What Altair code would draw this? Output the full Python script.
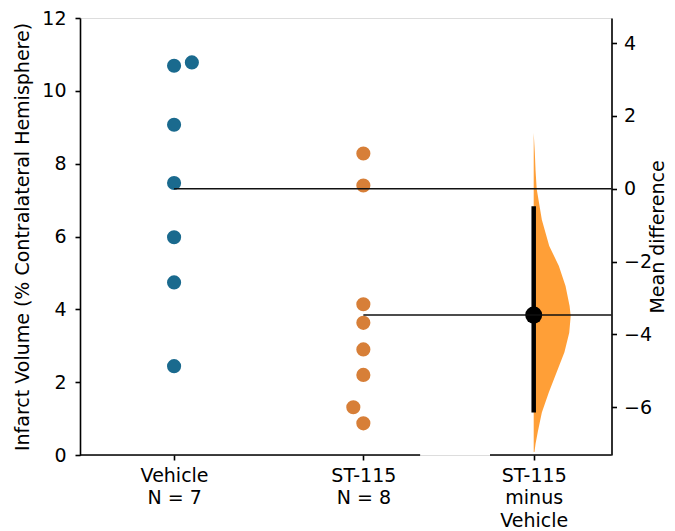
import altair as alt
import numpy as np
import pandas as pd

# ---- data ----
groups = ["Vehicle", "ST-115"]
vehicle_vals = [10.69, 10.78, 9.07, 7.47, 5.98, 4.74, 2.44]
vehicle_swarm = [0.0, 0.094, 0.0, 0.0, 0.0, 0.0, 0.0]
st115_vals = [8.28, 7.40, 4.14, 3.63, 2.90, 2.20, 1.31, 0.87]
st115_swarm = [0.0, 0.0, 0.0, 0.0, 0.0, 0.0, -0.053, 0.0]

# bootstrap distribution outline of the mean difference (relative density)
boot_diff = [1.53, 1.0, 0.5, 0.0, -0.85, -1.57, -2.12, -2.67, -3.22, -3.49,
             -3.95, -4.49, -5.04, -5.59, -6.14, -6.68, -7.0, -7.23]
boot_density = [0.0, 0.03, 0.05, 0.08, 0.22, 0.42, 0.68, 0.86, 0.97, 1.0,
                0.96, 0.83, 0.62, 0.41, 0.22, 0.11, 0.05, 0.02]
ci_low, ci_high = -6.14, -0.48

x_labels = {0: ["Vehicle", "N = 7"], 1: ["ST-115", "N = 8"],
            2: ["ST-115", "minus", "Vehicle"]}
left_ticks = [0, 2, 4, 6, 8, 10, 12]
right_ticks = [-6, -4, -2, 0, 2, 4]

# ---- layout ----
pos = [0.0, 1.0]
contrast_pos = 1.9
half_width = 0.1955
xdom = [-0.497, 2.311]
left_seg = [-0.497, 1.30]
right_seg = [1.669, 2.311]
W, H = 531.5, 437
FONT = "DejaVu Sans"
BLUE, ORANGE, VIOLIN = "#1a6a8e", "#d77f38", "#ff9a2c"

veh_mean = float(np.mean(vehicle_vals))
st_mean = float(np.mean(st115_vals))
mdiff = st_mean - veh_mean

pts = pd.DataFrame({
    "x": [pos[0] + o for o in vehicle_swarm] + [pos[1] + o for o in st115_swarm],
    "value": vehicle_vals + st115_vals,
    "group": [groups[0]] * len(vehicle_vals) + [groups[1]] * len(st115_vals),
})
means = pd.DataFrame({"x": pos, "x2": [xdom[1], xdom[1]], "mean": [veh_mean, st_mean]})
segs = pd.DataFrame({"x": [left_seg[0], right_seg[0]], "x2": [left_seg[1], right_seg[1]]})
violin = pd.DataFrame({
    "diff": boot_diff,
    "xr": [contrast_pos + d * half_width for d in boot_density],
    "xc": [contrast_pos] * len(boot_diff),
})
ci = pd.DataFrame({"x": [contrast_pos], "lo": [ci_low], "hi": [ci_high], "md": [mdiff]})

def js_list(lst):
    return "[" + ",".join("'" + s + "'" for s in lst) + "]"

label_expr = (f"datum.value == {pos[0]} ? {js_list(x_labels[0])} : "
              f"datum.value == {pos[1]} ? {js_list(x_labels[1])} : {js_list(x_labels[2])}")

xaxis = alt.Axis(values=[pos[0], pos[1], contrast_pos], domain=False, grid=False,
                 tickSize=5, tickWidth=1.6, tickColor="black", labelExpr=label_expr,
                 labelFont=FONT, labelFontSize=19, labelColor="black",
                 labelLineHeight=22.6, labelPadding=6, labelOverlap=False,
                 labelBound=False, labelFlush=False, title=None)
xscale = alt.Scale(domain=xdom, nice=False, zero=False)

def X(field):
    return alt.X(field, type="quantitative", scale=xscale, axis=xaxis)

lscale = alt.Scale(domain=[0, 12], nice=False, zero=False)
laxis = alt.Axis(values=left_ticks, orient="left", grid=False, domainColor="black",
                 domainWidth=1.6, tickColor="black", tickWidth=1.6, tickSize=5,
                 labelFont=FONT, labelFontSize=19, labelColor="black", labelPadding=9,
                 title="Infarct Volume (% Contralateral Hemisphere)",
                 titleFont=FONT, titleFontSize=19, titleFontWeight="normal",
                 titleColor="black", titleAngle=270, titleX=-52, titleY=H / 2,
                 titleAlign="center", titleBaseline="alphabetic")

rscale = alt.Scale(domain=[-veh_mean, 12 - veh_mean], nice=False, zero=False)
raxis = alt.Axis(values=right_ticks, orient="right", grid=False, domainColor="black",
                 domainWidth=1.6, tickColor="black", tickWidth=1.6, tickSize=5,
                 labelFont=FONT, labelFontSize=19, labelColor="black", labelPadding=7,
                 title="Mean difference", titleFont=FONT, titleFontSize=19,
                 titleFontWeight="normal", titleColor="black", titleAngle=270,
                 titleX=51.5, titleY=H / 2, titleAlign="center",
                 titleBaseline="alphabetic")

points = alt.Chart(pts).mark_circle(size=200, opacity=1).encode(
    x=X("x"),
    y=alt.Y("value:Q", scale=lscale, axis=laxis),
    color=alt.Color("group:N", scale=alt.Scale(domain=groups, range=[BLUE, ORANGE]),
                    legend=None),
)
mean_lines = alt.Chart(means).mark_rule(color="#111", strokeWidth=1.5).encode(
    x=X("x"), x2="x2:Q",
    y=alt.Y("mean:Q", scale=lscale, axis=laxis),
)
baseline = alt.Chart(segs).mark_rule(color="black", strokeWidth=1.6).encode(
    x=X("x"), x2="x2:Q", y=alt.value(H),
)
left = alt.layer(points, mean_lines, baseline)

vio = alt.Chart(violin).mark_area(orient="horizontal", color=VIOLIN, fillOpacity=0.95).encode(
    y=alt.Y("diff:Q", scale=rscale, axis=raxis),
    x=alt.X("xr:Q", scale=xscale, axis=xaxis),
    x2=alt.X2("xc:Q"),
)
ci_bar = alt.Chart(ci).mark_rule(color="black", strokeWidth=4.5).encode(
    x=X("x"), y=alt.Y("lo:Q", scale=rscale, axis=raxis), y2="hi:Q",
)
dot = alt.Chart(ci).mark_circle(size=290, color="black", opacity=1).encode(
    x=X("x"), y=alt.Y("md:Q", scale=rscale, axis=raxis),
)
right = alt.layer(vio, ci_bar, dot)

chart = alt.layer(right, left).resolve_scale(y="independent").properties(
    width=W, height=H,
    padding={"left": 72, "top": 10, "right": 55.5, "bottom": 76},
    autosize=alt.AutoSizeParams(type="none"),
).configure_view(stroke=None).configure(background="white")

chart.save("out.html", embed_options={"renderer": "svg", "actions": False})
